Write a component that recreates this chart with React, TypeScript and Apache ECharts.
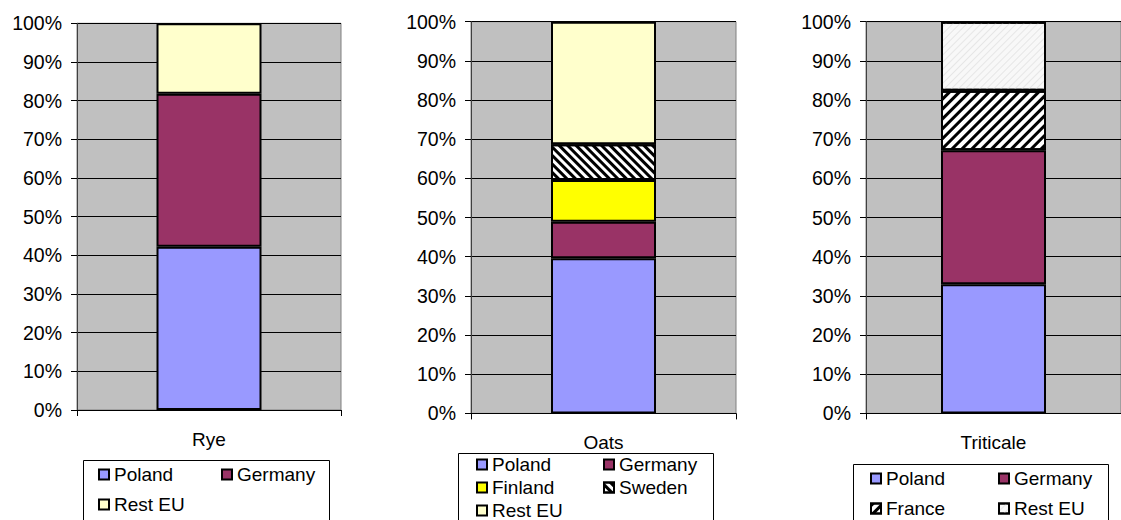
import React, { useEffect, useRef } from "react";
import * as echarts from "echarts";

const FONT = '"Liberation Sans", Arial, sans-serif';

// ---- data ----
const crops = ["Rye", "Oats", "Triticale"];
const ryeCountries = ["Poland", "Germany", "Rest EU"];
const ryeShares = [42.2, 39.6, 18.2];
const oatsCountries = ["Poland", "Germany", "Finland", "Sweden", "Rest EU"];
const oatsShares = [39.6, 9.3, 10.7, 9.1, 31.3];
const triticaleCountries = ["Poland", "Germany", "France", "Rest EU"];
const triticaleShares = [33.0, 34.2, 15.2, 17.6];
const percentTicks = [0, 10, 20, 30, 40, 50, 60, 70, 80, 90, 100];

const countriesByCrop = [ryeCountries, oatsCountries, triticaleCountries];
const sharesByCrop = [ryeShares, oatsShares, triticaleShares];

// ---- styles ----
const stripes = (rotation: number, dashY: number[], color: string) => ({
  symbol: "rect",
  symbolSize: 1,
  dashArrayX: [1, 0],
  dashArrayY: dashY,
  rotation,
  color,
});

function styleFor(crop: string, country: string): any {
  switch (country) {
    case "Poland":
      return { color: "#9999FF" };
    case "Germany":
      return { color: "#993366" };
    case "Finland":
      return { color: "#FFFF00" };
    case "Sweden":
      return { color: "#FFFFFF", decal: stripes(Math.PI / 4, [2.2, 2.2], "#000") };
    case "France":
      return { color: "#FFFFFF", decal: stripes(-Math.PI / 4, [3, 4], "#000") };
    case "Rest EU":
      if (crop === "Triticale")
        return { color: "#F8F8F8", decal: stripes(-Math.PI / 4, [1, 4], "#E6E6E6") };
      return { color: "#FFFFCC" };
  }
  return {};
}

const grids = [
  { left: 77, top: 23.3, width: 264, height: 386.7 },
  { left: 471, top: 21.7, width: 265, height: 391.7 },
  { left: 866, top: 21.7, width: 266, height: 391.7 },
];

// legend item anchor: symbol left x, centre y
const legendSlots = [
  [[98, 476], [221, 476], [98, 506]],
  [[476, 466], [603, 466], [476, 489], [603, 489], [476, 512]],
  [[870, 480], [998, 480], [870, 510], [998, 510]],
];
const legendBoxes = [
  { x: 83, y: 460, w: 246 },
  { x: 458, y: 453, w: 255 },
  { x: 853, y: 464, w: 255 },
];

export default function App() {
  const ref = useRef<HTMLDivElement>(null);
  useEffect(() => {
    if (!ref.current) return;
    const chart = echarts.init(ref.current, null, { renderer: "svg" });

    const series: any[] = [];
    const legends: any[] = [];
    crops.forEach((crop, i) => {
      countriesByCrop[i].forEach((country, j) => {
        const name = `${crop}|${country}`;
        series.push({
          type: "bar",
          name,
          xAxisIndex: i,
          yAxisIndex: i,
          stack: "s" + i,
          barWidth: 105,
          data: [sharesByCrop[i][j]],
          itemStyle: { ...styleFor(crop, country), borderColor: "#000", borderWidth: 2 },
          emphasis: { disabled: true },
        });
        const [lx, ly] = legendSlots[i][j];
        legends.push({
          left: lx,
          top: ly - 11,
          padding: 0,
          icon: "rect",
          itemWidth: 10,
          itemHeight: 10,
          itemGap: 0,
          selectedMode: false,
          data: [name],
          formatter: (n: string) => n.split("|")[1],
          textStyle: { fontSize: 19, fontFamily: FONT, color: "#000", padding: [0, 0, 0, 0] },
        });
      });
    });

    chart.setOption({
      animation: false,
      grid: grids.map((g) => ({
        ...g,
        show: true,
        backgroundColor: "#C0C0C0",
        borderColor: "#808080",
        borderWidth: 1,
        containLabel: false,
      })),
      xAxis: crops.map((crop, i) => ({
        type: "category",
        gridIndex: i,
        data: [crop],
        axisLine: { show: true, lineStyle: { color: "#000", width: 1 } },
        axisTick: { show: true, length: 6, lineStyle: { color: "#000" } },
        axisLabel: { fontSize: 19, fontFamily: FONT, color: "#000", margin: 20 },
        splitLine: { show: false },
      })),
      yAxis: crops.map((_, i) => ({
        type: "value",
        gridIndex: i,
        min: percentTicks[0],
        max: percentTicks[percentTicks.length - 1],
        interval: percentTicks[1] - percentTicks[0],
        axisLine: { show: true, lineStyle: { color: "#404040", width: 1 } },
        axisTick: { show: true, length: 6, lineStyle: { color: "#000" } },
        axisLabel: { fontSize: 19.5, fontFamily: FONT, color: "#000", margin: 15, formatter: "{value}%" },
        splitLine: { show: true, lineStyle: { color: "#000", width: 1 } },
      })),
      legend: legends,
      graphic: legendBoxes.map((b) => ({
        type: "rect",
        z: 0,
        shape: { x: b.x + 0.5, y: b.y + 0.5, width: b.w, height: 100 },
        style: { fill: "#fff", stroke: "#000", lineWidth: 1 },
      })),
      series,
    });
    return () => chart.dispose();
  }, []);
  return (
    <div
      ref={ref}
      style={{ position: "absolute", left: 0, top: 0, width: 1121, height: 520, background: "#fff" }}
    />
  );
}
